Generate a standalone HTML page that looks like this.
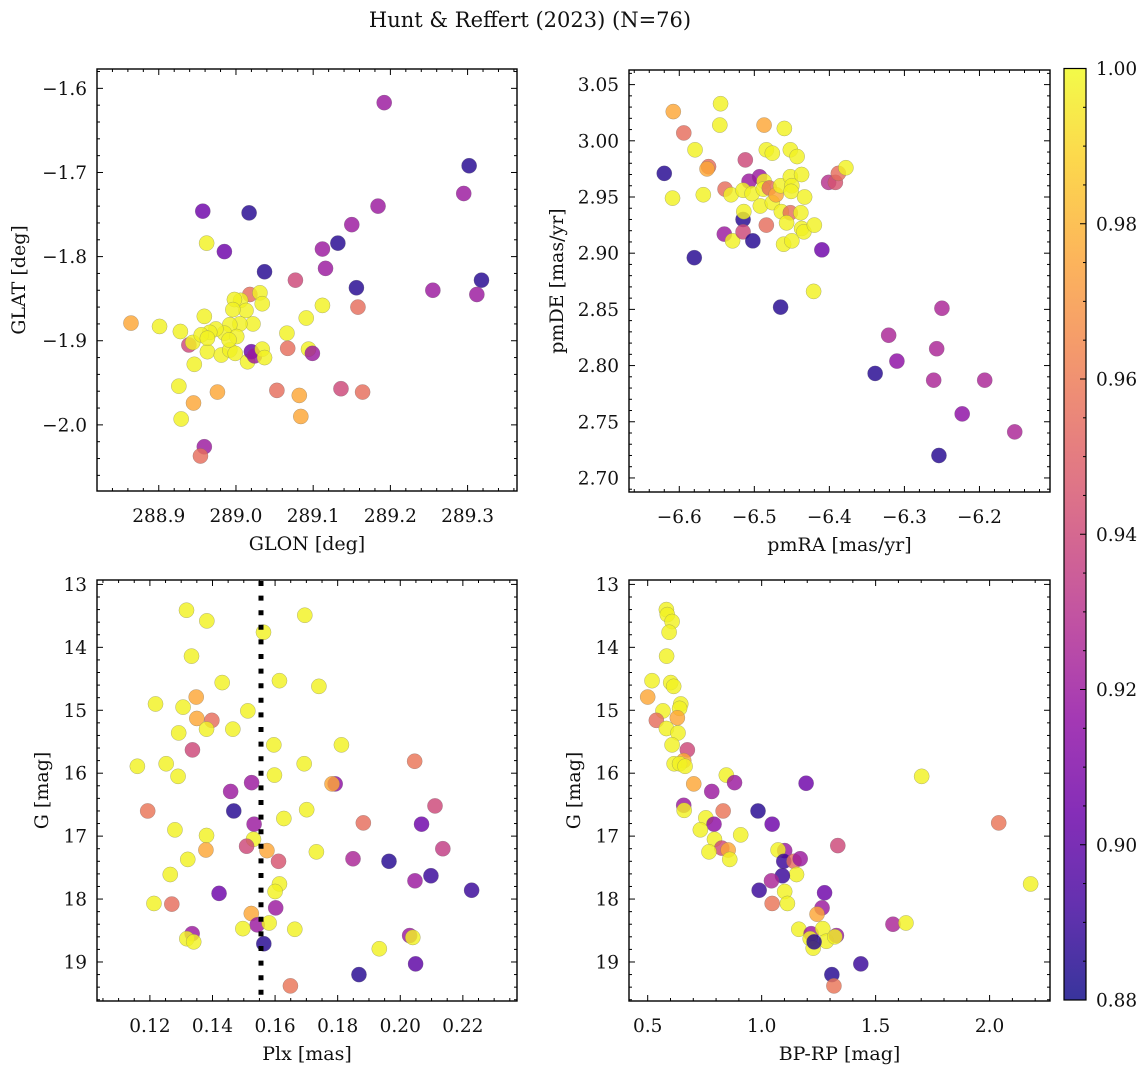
<!DOCTYPE html>
<html><head><meta charset="utf-8">
<style>
html,body{margin:0;padding:0;background:#fff;}
svg{display:block;font-family:"DejaVu Serif","Liberation Serif",serif;}
</style></head>
<body>
<svg id="fig" width="1148" height="1068" viewBox="0 0 1148 1068" xmlns="http://www.w3.org/2000/svg">
<text x="530" y="27" font-size="21" text-anchor="middle" fill="#111">Hunt &amp; Reffert (2023) (N=76)</text>
</svg>
<script>
// ---- Panel 1: GLON vs GLAT ----
const p1x=[289.192,289.302,289.295,289.184,289.150,288.957,289.017,288.962,288.985,289.112,289.132,289.037,289.116,289.077,289.156,289.255,289.318,289.312,289.158,289.112,289.091,289.066,289.067,289.094,289.099,288.864,288.901,288.928,288.939,288.944,288.946,288.926,288.929,288.945,288.976,289.053,289.082,289.084,289.136,289.164,288.959,288.954,289.018,289.031,289.034,289.006,288.998,289.013,288.996,288.959,289.022,289.005,288.992,288.985,288.974,288.966,288.955,288.963,288.963,288.981,288.992,289.001,288.999,288.991,289.015,289.020,289.024,289.034,289.037];
const p1y=[-1.617,-1.692,-1.725,-1.740,-1.762,-1.746,-1.748,-1.784,-1.794,-1.791,-1.784,-1.818,-1.814,-1.828,-1.837,-1.840,-1.828,-1.845,-1.860,-1.858,-1.873,-1.891,-1.909,-1.910,-1.915,-1.879,-1.883,-1.889,-1.905,-1.902,-1.928,-1.954,-1.993,-1.974,-1.961,-1.959,-1.965,-1.990,-1.957,-1.961,-2.026,-2.037,-1.845,-1.843,-1.856,-1.852,-1.851,-1.864,-1.863,-1.871,-1.880,-1.880,-1.881,-1.891,-1.886,-1.890,-1.893,-1.913,-1.897,-1.917,-1.911,-1.895,-1.915,-1.899,-1.925,-1.913,-1.918,-1.910,-1.920];
const p1c=[0.92,0.885,0.92,0.92,0.92,0.905,0.885,0.998,0.905,0.92,0.885,0.885,0.92,0.94,0.885,0.92,0.885,0.92,0.955,0.998,0.998,0.998,0.955,0.998,0.92,0.976,0.998,0.998,0.94,0.998,0.998,0.998,0.998,0.976,0.976,0.955,0.976,0.976,0.94,0.955,0.92,0.955,0.955,0.998,0.998,0.998,0.998,0.998,0.998,0.998,0.998,0.998,0.998,0.998,0.998,0.998,0.998,0.998,0.998,0.998,0.998,0.998,0.998,0.998,0.998,0.905,0.92,0.998,0.998];
const p1xt=[288.9,289.0,289.1,289.2,289.3];
const p1yt=[-1.6,-1.7,-1.8,-1.9,-2.0];

// ---- Panel 2: pmRA vs pmDE ----
const p2x=[-6.620,-6.608,-6.594,-6.579,-6.609,-6.568,-6.561,-6.563,-6.545,-6.546,-6.580,-6.539,-6.531,-6.540,-6.529,-6.512,-6.507,-6.515,-6.515,-6.514,-6.515,-6.503,-6.502,-6.493,-6.487,-6.487,-6.484,-6.476,-6.488,-6.480,-6.492,-6.484,-6.476,-6.471,-6.460,-6.465,-6.464,-6.452,-6.457,-6.461,-6.450,-6.452,-6.443,-6.452,-6.450,-6.451,-6.437,-6.433,-6.438,-6.437,-6.434,-6.420,-6.465,-6.421,-6.410,-6.401,-6.392,-6.388,-6.378,-6.339,-6.321,-6.310,-6.261,-6.257,-6.250,-6.254,-6.223,-6.193,-6.153];
const p2y=[2.971,3.026,3.007,2.992,2.949,2.952,2.977,2.975,3.033,3.014,2.896,2.957,2.952,2.917,2.911,2.983,2.964,2.930,2.919,2.937,2.956,2.953,2.911,2.968,2.964,3.014,2.992,2.989,2.957,2.958,2.942,2.925,2.945,2.952,3.011,2.960,2.937,2.936,2.927,2.908,2.911,2.992,2.986,2.968,2.960,2.955,2.970,2.950,2.936,2.922,2.919,2.925,2.852,2.866,2.903,2.963,2.963,2.971,2.976,2.793,2.827,2.804,2.787,2.815,2.851,2.720,2.757,2.787,2.741];
const p2c=[0.885,0.976,0.955,0.998,0.998,0.998,0.955,0.976,0.998,0.998,0.885,0.955,0.998,0.92,0.998,0.94,0.92,0.885,0.94,0.998,0.998,0.998,0.885,0.92,0.998,0.976,0.998,0.998,0.998,0.955,0.998,0.955,0.998,0.976,0.998,0.998,0.998,0.955,0.998,0.998,0.998,0.998,0.998,0.998,0.998,0.998,0.998,0.998,0.998,0.998,0.998,0.998,0.885,0.998,0.905,0.93,0.945,0.955,0.998,0.885,0.925,0.915,0.925,0.925,0.925,0.885,0.915,0.925,0.925];
const p2xt=[-6.6,-6.5,-6.4,-6.3,-6.2];
const p2yt=[3.05,3.00,2.95,2.90,2.85,2.80,2.75,2.70];

// ---- Panel 3: Plx vs G ----
const p3x=[0.1317,0.1382,0.1695,0.1563,0.1333,0.1431,0.1614,0.1740,0.1348,0.1218,0.1306,0.1513,0.1350,0.1398,0.1292,0.1381,0.1465,0.1336,0.1596,0.1812,0.2046,0.1160,0.1252,0.1693,0.1290,0.1598,0.1525,0.1458,0.1792,0.1782,0.1193,0.1468,0.2111,0.1701,0.1628,0.1882,0.1533,0.2068,0.1280,0.1381,0.1531,0.1509,0.1379,0.1574,0.1732,0.1611,0.1321,0.1849,0.1964,0.2136,0.1265,0.2098,0.2047,0.1614,0.1600,0.1421,0.2228,0.1213,0.1270,0.1602,0.1524,0.1543,0.1581,0.1497,0.1663,0.1335,0.1318,0.1340,0.2030,0.2040,0.1564,0.1933,0.2049,0.1868,0.1649];
const p3y=[13.41,13.58,13.49,13.76,14.14,14.56,14.53,14.62,14.79,14.90,14.95,15.01,15.13,15.16,15.36,15.30,15.30,15.63,15.55,15.55,15.81,15.89,15.85,15.85,16.05,16.03,16.15,16.29,16.17,16.17,16.60,16.60,16.52,16.58,16.72,16.79,16.81,16.81,16.90,16.99,17.05,17.16,17.22,17.23,17.25,17.40,17.37,17.36,17.40,17.20,17.61,17.63,17.71,17.76,17.88,17.91,17.86,18.07,18.08,18.14,18.23,18.41,18.38,18.47,18.48,18.55,18.63,18.68,18.58,18.61,18.71,18.79,19.03,19.20,19.38];
const p3c=[0.998,0.998,0.998,0.998,0.998,0.998,0.998,0.998,0.976,0.998,0.998,0.998,0.976,0.955,0.998,0.998,0.998,0.94,0.998,0.998,0.958,0.998,0.998,0.998,0.998,0.998,0.92,0.92,0.915,0.976,0.958,0.885,0.94,0.998,0.998,0.955,0.92,0.905,0.998,0.998,0.998,0.94,0.976,0.976,0.998,0.945,0.998,0.925,0.885,0.935,0.998,0.89,0.92,0.998,0.998,0.905,0.89,0.998,0.955,0.92,0.976,0.92,0.998,0.998,0.998,0.92,0.998,0.998,0.92,0.998,0.885,0.998,0.9,0.885,0.958];
const p3xt=[0.12,0.14,0.16,0.18,0.20,0.22];
const p3yt=[13,14,15,16,17,18,19];
const plxCut=[0.1555];

// ---- Panel 4: BP-RP vs G ----
const p4x=[0.582,0.586,0.607,0.594,0.583,0.519,0.601,0.614,0.500,0.645,0.640,0.567,0.630,0.538,0.582,0.633,0.607,0.674,0.658,0.616,0.640,0.664,0.702,0.845,0.881,0.781,1.195,1.702,0.658,0.660,0.831,0.984,0.755,0.791,1.046,0.731,0.908,0.793,0.825,0.853,0.769,0.860,1.101,1.072,1.097,1.142,1.169,1.334,2.040,1.153,1.091,1.043,0.989,1.101,1.113,1.046,1.276,1.265,1.243,1.576,1.633,2.180,1.163,1.217,1.268,1.213,1.226,1.284,1.328,1.321,1.230,1.435,1.308,1.317];
const p4y=[13.40,13.48,13.59,13.76,14.14,14.53,14.56,14.62,14.79,14.90,14.97,15.01,15.12,15.16,15.29,15.36,15.55,15.63,15.80,15.85,15.85,15.89,16.17,16.03,16.15,16.29,16.16,16.05,16.51,16.59,16.60,16.60,16.71,16.81,16.81,16.90,16.98,17.05,17.19,17.22,17.25,17.37,17.23,17.22,17.40,17.40,17.36,17.15,16.79,17.61,17.63,17.71,17.86,17.88,18.07,18.07,17.90,18.14,18.24,18.40,18.38,17.76,18.48,18.55,18.47,18.63,18.78,18.67,18.58,18.60,18.68,19.03,19.20,19.38];
const p4c=[0.998,0.998,0.998,0.998,0.998,0.998,0.998,0.998,0.976,0.998,0.998,0.998,0.976,0.955,0.998,0.998,0.998,0.94,0.976,0.998,0.998,0.998,0.976,0.998,0.92,0.92,0.905,0.998,0.92,0.998,0.958,0.885,0.998,0.915,0.905,0.998,0.998,0.998,0.94,0.976,0.998,0.998,0.92,0.998,0.89,0.955,0.92,0.94,0.958,0.998,0.89,0.925,0.89,0.998,0.998,0.958,0.905,0.92,0.976,0.925,0.998,0.998,0.998,0.92,0.998,0.998,0.998,0.998,0.92,0.998,0.885,0.89,0.885,0.958];
const p4xt=[0.5,1.0,1.5,2.0];
const p4yt=[13,14,15,16,17,18,19];

// ---- Colorbar ----
const cbTicks=[1.00,0.98,0.96,0.94,0.92,0.90,0.88];
const cbMin=0.88, cbMax=1.0;

const NS='http://www.w3.org/2000/svg';
const svg=document.getElementById('fig');
const TF=18.5, AF=19;
const stops=['#0d0887','#41049d','#6a00a8','#8f0da4','#b12a90','#cc4778','#e16462','#f2844b','#fca636','#fcce25','#f0f921'];
function hex(h){return [parseInt(h.substr(1,2),16),parseInt(h.substr(3,2),16),parseInt(h.substr(5,2),16)];}
function plasma(t){t=Math.max(0,Math.min(1,t));const f=t*10,i=Math.min(9,Math.floor(f)),u=f-i;const a=hex(stops[i]),b=hex(stops[i+1]);
  return 'rgb('+a.map((v,k)=>Math.round(v+(b[k]-v)*u)).join(',')+')';}
function cmap(v){return plasma((v-cbMin)/(cbMax-cbMin));}
function mk(tag,attrs,parent){const e=document.createElementNS(NS,tag);for(const k in attrs)e.setAttribute(k,attrs[k]);(parent||svg).appendChild(e);return e;}
function fmt(v,d){const s=Math.abs(v).toFixed(d);return (v<-1e-9?'\u2212':'')+s;}

function panel(o){
  const g=mk('g',{});
  
  
  const X=v=>o.L+(v-o.x0)/(o.x1-o.x0)*(o.R-o.L);
  const Y=o.yinv?(v=>o.T+(v-o.y0)/(o.y1-o.y0)*(o.B-o.T)):(v=>o.B-(v-o.y0)/(o.y1-o.y0)*(o.B-o.T));
  const pts=mk('g',{},g);
  
  
  for(let i=0;i<o.xs.length;i++){
    const c=mk('circle',{cx:X(o.xs[i]),cy:Y(o.ys[i]),r:7.6,fill:cmap(o.cs[i]),'fill-opacity':0.82,stroke:'#6a6a6a','stroke-width':0.5,'stroke-opacity':0.5},pts);
    
    
  }
  if(o.extra)o.extra(g,X,Y);
  const tk=mk('g',{stroke:'#000','stroke-width':1},g);
  
  
  const xlo=Math.min(o.x0,o.x1),xhi=Math.max(o.x0,o.x1),ylo=Math.min(o.y0,o.y1),yhi=Math.max(o.y0,o.y1);
  const nm=Math.round((o.xt[1]-o.xt[0])/o.xm);
  for(let v=o.xt[0]-10*(o.xt[1]-o.xt[0]);v<=xhi+1e-9;v+=o.xm){
    if(v<xlo-1e-9)continue;
    const k=Math.round((v-o.xt[0])/o.xm);const maj=((k%nm)+nm)%nm===0;const len=maj?6:3;const x=X(v);
    mk('line',{x1:x,x2:x,y1:o.B,y2:o.B-len},tk);mk('line',{x1:x,x2:x,y1:o.T,y2:o.T+len},tk);
  }
  const nmy=Math.round(Math.abs(o.yt[1]-o.yt[0])/o.ym);
  const ystart=o.yt[0]-Math.ceil((o.yt[0]-ylo)/o.ym)*o.ym;
  for(let v=ystart;v<=yhi+1e-9;v+=o.ym){
    if(v<ylo-1e-9)continue;
    const k=Math.round((v-o.yt[0])/o.ym);const maj=((k%nmy)+nmy)%nmy===0;const len=maj?6:3;const y=Y(v);
    mk('line',{x1:o.L,x2:o.L+len,y1:y,y2:y},tk);mk('line',{x1:o.R,x2:o.R-len,y1:y,y2:y},tk);
  }
  const fr=mk('rect',{x:o.L,y:o.T,width:o.R-o.L,height:o.B-o.T,fill:'none',stroke:'#000','stroke-width':1.4},g);
  
  
  for(const v of o.xt){
    const t=mk('text',{x:X(v),y:o.B+31,'font-size':TF,'text-anchor':'middle',fill:'#111'},g);t.textContent=fmt(v,o.xd);
    
    
  }
  for(const v of o.yt){
    const t=mk('text',{x:o.L-10,y:Y(v)+6.5,'font-size':TF,'text-anchor':'end',fill:'#111'},g);t.textContent=fmt(v,o.yd);
    
    
  }
  const xl=mk('text',{x:(o.L+o.R)/2,y:o.B+59,'font-size':AF,'text-anchor':'middle',fill:'#111'},g);xl.textContent=o.xlabel;
  
  
  const yl=mk('text',{x:o.ylx,y:(o.T+o.B)/2,'font-size':AF,'text-anchor':'middle',fill:'#111',transform:'rotate(-90 '+o.ylx+' '+((o.T+o.B)/2)+')'},g);yl.textContent=o.ylabel;
  
  
}

panel({name:'glon-glat-panel',L:97,R:517,T:69,B:491,x0:288.820,x1:289.364,y0:-2.0786,y1:-1.577,xs:p1x,ys:p1y,cs:p1c,xt:p1xt,yt:p1yt,xm:0.02,ym:0.02,xd:1,yd:1,xlabel:'GLON [deg]',ylabel:'GLAT [deg]',ylx:25});
panel({name:'pm-panel',L:629,R:1050,T:70,B:492,x0:-6.667,x1:-6.106,y0:2.6875,y1:3.063,xs:p2x,ys:p2y,cs:p2c,xt:p2xt,yt:p2yt,xm:0.02,ym:0.01,xd:1,yd:2,xlabel:'pmRA [mas/yr]',ylabel:'pmDE [mas/yr]',ylx:563});
panel({name:'plx-g-panel',L:97,R:517,T:580,B:1001,x0:0.1031,x1:0.2373,y0:12.93,y1:19.62,yinv:true,xs:p3x,ys:p3y,cs:p3c,xt:p3xt,yt:p3yt,xm:0.005,ym:0.2,xd:2,yd:0,xlabel:'Plx [mas]',ylabel:'G [mag]',ylx:48,
  extra:(g,X,Y)=>{for(const v of plxCut){const l=mk('line',{x1:X(v),x2:X(v),y1:581,y2:1000,stroke:'#000','stroke-width':5,'stroke-dasharray':'5 9.6'},g);
    
    }}});
panel({name:'cmd-panel',L:629,R:1050,T:580,B:1001,x0:0.418,x1:2.265,y0:12.93,y1:19.62,yinv:true,xs:p4x,ys:p4y,cs:p4c,xt:p4xt,yt:p4yt,xm:0.1,ym:0.2,xd:1,yd:0,xlabel:'BP-RP [mag]',ylabel:'G [mag]',ylx:580});

(function(){
  const L=1064,R=1086,T=68.5,B=1000;
  const g=mk('g',{});
  
  
  const defs=mk('defs',{},g);
  const lg=mk('linearGradient',{id:'cbg',x1:0,y1:1,x2:0,y2:0},defs);
  for(let i=0;i<=20;i++){mk('stop',{offset:(i/20),'stop-color':plasma(i/20),'stop-opacity':0.82},lg);}
  const r=mk('rect',{x:L,y:T,width:R-L,height:B-T,fill:'url(#cbg)',stroke:'#000','stroke-width':1.2},g);
  
  
  const Yc=v=>B-(v-cbMin)/(cbMax-cbMin)*(B-T);
  for(let v=cbMin;v<=cbMax+1e-9;v+=0.005){const k=Math.round((v-cbMin)/0.005);const len=k%4===0?6:3;
    mk('line',{x1:R,x2:R-len,y1:Yc(v),y2:Yc(v),stroke:'#000','stroke-width':1},g);}
  for(const v of cbTicks){const t=mk('text',{x:R+10,y:Yc(v)+6.5,'font-size':TF,fill:'#111'},g);t.textContent=v.toFixed(2);
    
    }
})();
</script>
</body></html>
